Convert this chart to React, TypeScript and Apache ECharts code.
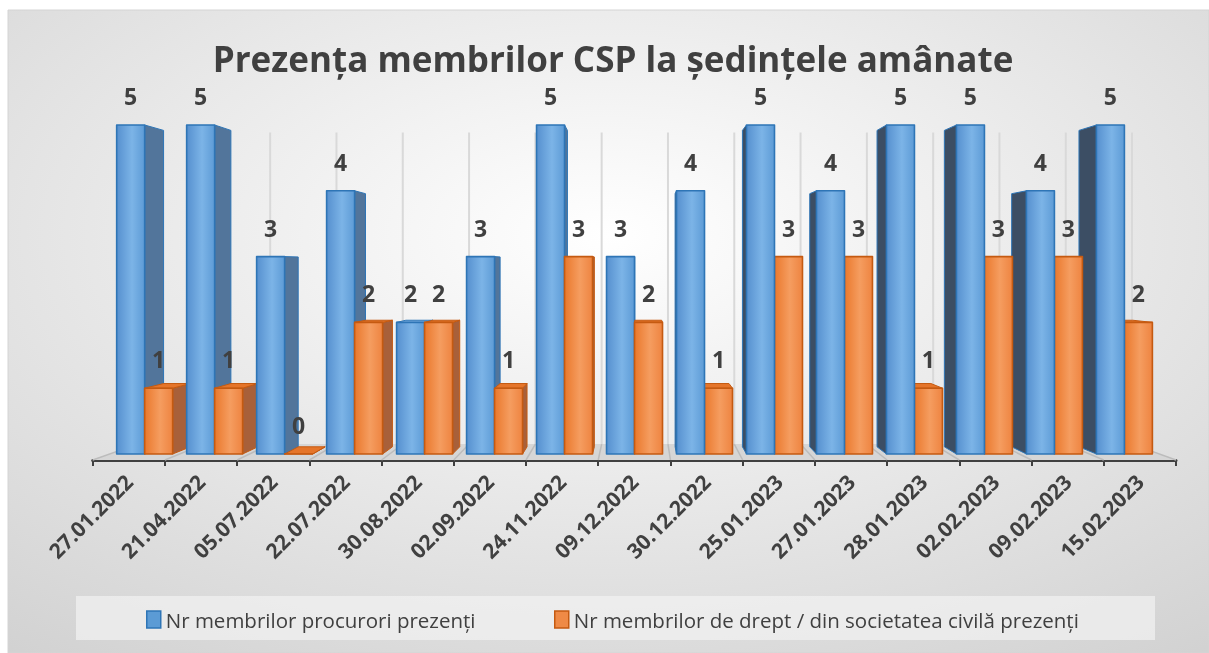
import React, { useEffect, useRef } from 'react';
import * as echarts from 'echarts';

const categories = ['27.01.2022', '21.04.2022', '05.07.2022', '22.07.2022', '30.08.2022', '02.09.2022', '24.11.2022', '09.12.2022', '30.12.2022', '25.01.2023', '27.01.2023', '28.01.2023', '02.02.2023', '09.02.2023', '15.02.2023'];
const procurori = [5, 5, 3, 4, 2, 3, 5, 3, 4, 5, 4, 5, 5, 4, 5];
const societate = [1, 1, 0, 2, 2, 1, 3, 2, 1, 3, 3, 1, 3, 3, 2];
const seriesNames = ['Nr membrilor procurori prezenți', 'Nr membrilor de drept / din societatea civilă prezenți'];
const titleText = 'Prezența membrilor CSP la ședințele amânate';

const VPX = 640;
const VPY = 266;
const S_FRONT = 0.969;
const S_BACK = 0.932;
const S_WALL = 0.918;
const Y_MAX = 5;
const FONT = '"Open Sans", "Noto Sans", sans-serif';
const TEXT = '#404040';

const palettes = [
  { front: ['#5690cf', '#7cb4e7', '#5d9bd6'], stroke: '#2e75b6', right: '#52759b', left: '#3c4e64', top: '#86b8e8' },
  { front: ['#ea782c', '#f59d60', '#ee8441'], stroke: '#c55a11', right: '#a8603a', left: '#8a4a25', top: '#e5752a' },
];

const P = (x: number, y: number, s: number) => [VPX + (x - VPX) * s, VPY + (y - VPY) * s];

function makeRenderBar(k: number) {
  return (params: any, api: any) => {
    const idx = api.value(0);
    const val = api.value(1);
    const top = api.coord([idx, val]);
    const base = api.coord([idx, 0]);
    const band = api.size([1, 0])[0];
    const bw = band * 0.4;
    const xl = k === 0 ? top[0] - bw : top[0];
    const xr = xl + bw;
    const y1 = top[1];
    const y0 = base[1];
    const f1 = P(xl, y1, S_FRONT), f2 = P(xr, y1, S_FRONT), f3 = P(xr, y0, S_FRONT), f4 = P(xl, y0, S_FRONT);
    const b1 = P(xl, y1, S_BACK), b2 = P(xr, y1, S_BACK), b3 = P(xr, y0, S_BACK), b4 = P(xl, y0, S_BACK);
    const pal = palettes[k];
    const cx = (f1[0] + f2[0]) / 2;
    const depth = 1000 - Math.abs(cx - VPX);
    const children: any[] = [];
    if (f2[0] < VPX) {
      children.push({ type: 'polygon', shape: { points: [f2, b2, b3, f3] }, style: { fill: pal.right, stroke: pal.stroke, lineWidth: 1 }, z2: depth });
    }
    if (f1[0] > VPX) {
      children.push({ type: 'polygon', shape: { points: [f1, b1, b4, f4] }, style: { fill: pal.left, stroke: pal.stroke, lineWidth: 1 }, z2: depth });
    }
    if (y1 > VPY) {
      children.push({ type: 'polygon', shape: { points: [f1, f2, b2, b1] }, style: { fill: pal.top, stroke: pal.stroke, lineWidth: 1 }, z2: depth });
    }
    children.push({
      type: 'polygon',
      shape: { points: [f1, f2, f3, f4] },
      style: {
        fill: new echarts.graphic.LinearGradient(0, 0, 1, 0, [
          { offset: 0, color: pal.front[0] },
          { offset: 0.55, color: pal.front[1] },
          { offset: 1, color: pal.front[2] },
        ]),
        stroke: pal.stroke,
        lineWidth: 1.6,
        lineJoin: 'round',
      },
      z2: depth + 0.5,
    });
    children.push({
      type: 'text',
      x: cx,
      y: f1[1] - 29,
      style: { text: String(val), fill: TEXT, fontSize: 23, fontWeight: 'bold', fontFamily: FONT, align: 'center', verticalAlign: 'middle' },
      z2: 5000,
    });
    return { type: 'group', children };
  };
}

const renderFloor = (params: any, api: any) => {
  const band = api.size([1, 0])[0];
  const c0 = api.coord([0, 0]);
  const left = c0[0] - band / 2;
  const y0 = c0[1];
  const yTop = api.coord([0, Y_MAX])[1];
  const n = categories.length;
  const right = left + band * n;
  const children: any[] = [
    {
      type: 'polygon',
      shape: { points: [P(left, y0, 1), P(right, y0, 1), P(right, y0, S_WALL), P(left, y0, S_WALL)] },
      style: { fill: '#d6d6d6' },
    },
  ];
  for (let i = 0; i <= n; i++) {
    const x = left + band * i;
    const a = P(x, y0, S_WALL);
    const b = P(x, yTop, S_WALL);
    const c = P(x, y0, 1);
    children.push({ type: 'line', shape: { x1: a[0], y1: a[1], x2: b[0], y2: b[1] }, style: { stroke: '#d9d9d9', lineWidth: 2 } });
    children.push({ type: 'line', shape: { x1: c[0], y1: c[1], x2: a[0], y2: a[1] }, style: { stroke: '#bcbcbc', lineWidth: 1.5 } });
  }
  return { type: 'group', children };
};

export default function App() {
  const ref = useRef<HTMLDivElement>(null);
  useEffect(() => {
    if (!ref.current) return;
    const chart = echarts.init(ref.current, undefined, { renderer: 'svg' });
    const legendText = { color: TEXT, fontSize: 20.5, fontFamily: FONT };
    chart.setOption({
      animation: false,
      grid: { left: 92.7, right: 33, top: 120.5, bottom: 193 },
      xAxis: {
        type: 'category',
        data: categories,
        axisLine: { lineStyle: { color: TEXT, width: 3 } },
        axisTick: { show: true, length: 6, lineStyle: { color: TEXT, width: 2 } },
        axisLabel: { rotate: 45, fontSize: 21, fontWeight: 'bold', color: TEXT, fontFamily: FONT, margin: 18, interval: 0 },
        splitLine: { show: false },
      },
      yAxis: { type: 'value', min: 0, max: Y_MAX, show: false },
      legend: [
        {
          left: 141, top: 604, icon: 'rect', itemWidth: 14, itemHeight: 17,
          data: [{ name: seriesNames[0], itemStyle: { color: '#5b9bd5', borderColor: '#2e75b6', borderWidth: 1.5 } }],
          textStyle: legendText, selectedMode: false,
        },
        {
          left: 549, top: 604, icon: 'rect', itemWidth: 14, itemHeight: 17,
          data: [{ name: seriesNames[1], itemStyle: { color: '#ef8a46', borderColor: '#c55a11', borderWidth: 1.5 } }],
          textStyle: legendText, selectedMode: false,
        },
      ],
      graphic: [
        {
          type: 'rect', silent: true, z: -10,
          shape: { x: 8, y: 10, width: 1201, height: 643 },
          style: {
            fill: new echarts.graphic.RadialGradient(0.5, 0.35, 1.1, [
              { offset: 0, color: '#ffffff' },
              { offset: 1, color: '#c2c2c2' },
            ]),
            stroke: '#d4d4d4', lineWidth: 1,
          },
        },
        {
          type: 'rect', silent: true, z: -5,
          shape: { x: 76, y: 596, width: 1079, height: 44 },
          style: { fill: 'rgba(242,242,242,0.7)' },
        },
        {
          type: 'text', x: 613, y: 58, z: 10,
          style: { text: titleText, fontSize: 35, fontWeight: 'bold', fontFamily: FONT, fill: TEXT, align: 'center', verticalAlign: 'middle' },
        },
      ],
      series: [
        { type: 'custom', silent: true, z: 1, data: [[0, 0]], encode: { x: 0, y: 1 }, renderItem: renderFloor },
        {
          type: 'custom', name: seriesNames[0], z: 2,
          itemStyle: { color: '#5b9bd5' },
          data: procurori.map((v, i) => [i, v]),
          encode: { x: 0, y: 1 },
          renderItem: makeRenderBar(0),
        },
        {
          type: 'custom', name: seriesNames[1], z: 2,
          itemStyle: { color: '#ef8a46' },
          data: societate.map((v, i) => [i, v]),
          encode: { x: 0, y: 1 },
          renderItem: makeRenderBar(1),
        },
      ],
    });
    return () => chart.dispose();
  }, []);
  return <div ref={ref} style={{ position: 'fixed', left: 0, top: 0, width: 1209, height: 653 }} />;
}
